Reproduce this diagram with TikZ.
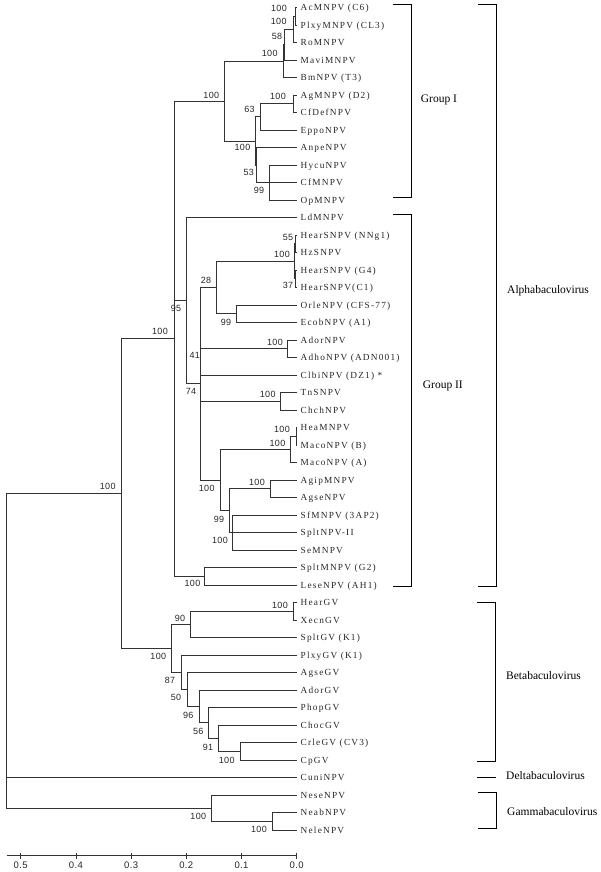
\documentclass[tikz,border=0pt]{standalone}
\usepackage{fontspec}
\setmainfont{Liberation Serif}
\newfontfamily\leaffont[LetterSpace=13]{Liberation Serif}
\newfontfamily\bsfont[LetterSpace=4]{Liberation Sans}
\tikzset{
  br/.style={line width=0.8pt, draw=black!80},
  leaf/.style={font=\leaffont\fontsize{9.3}{10}\selectfont, anchor=base west, inner sep=0pt, xshift=3.5pt, yshift=-3.2pt, text=black!85},
  bs/.style={font=\bsfont\fontsize{9}{10}\selectfont, inner sep=0pt, text=black!85},
  scl/.style={font=\bsfont\fontsize{9.5}{10}\selectfont, inner sep=0pt, text=black!85},
  grp/.style={font=\fontsize{11.5}{13}\selectfont, anchor=base west, inner sep=0pt, yshift=-3.8pt},
  bk/.style={line width=0.9pt, draw=black},
}
\begin{document}
\begin{tikzpicture}[x=1pt,y=-1pt]
\useasboundingbox (0,0) rectangle (600,872);
% ---- leaves
\foreach \i/\y in {1/7.5,2/25,3/42.5,4/60,5/77.5,6/95,7/112.5,8/130,9/147.5,10/165,11/182.5,12/200,13/217.5,14/235,15/252.5,16/270,17/287.5,18/305,19/322.5,20/340,21/357.5,22/375,23/392.5,24/410,25/427.5,26/445,27/462.5,28/480,29/497.5,30/515,31/532.5,32/550,33/567.5,34/585,35/602.5,36/620,37/637.5,38/655,39/672.5,40/690,41/707.5,42/725,43/742.5,44/760,45/777.5,46/795,47/812.5,48/830}
  {\coordinate (t\i) at (297,\y);}
\node[leaf] (l1) at (t1) {AcMNPV (C6)};
\node[leaf] (l2) at (t2) {PlxyMNPV (CL3)};
\node[leaf] (l3) at (t3) {RoMNPV};
\node[leaf] (l4) at (t4) {MaviMNPV};
\node[leaf] (l5) at (t5) {BmNPV (T3)};
\node[leaf] (l6) at (t6) {AgMNPV (D2)};
\node[leaf] (l7) at (t7) {CfDefNPV};
\node[leaf] (l8) at (t8) {EppoNPV};
\node[leaf] (l9) at (t9) {AnpeNPV};
\node[leaf] (l10) at (t10) {HycuNPV};
\node[leaf] (l11) at (t11) {CfMNPV};
\node[leaf] (l12) at (t12) {OpMNPV};
\node[leaf] (l13) at (t13) {LdMNPV};
\node[leaf] (l14) at (t14) {HearSNPV (NNg1)};
\node[leaf] (l15) at (t15) {HzSNPV};
\node[leaf] (l16) at (t16) {HearSNPV (G4)};
\node[leaf] (l17) at (t17) {HearSNPV(C1)};
\node[leaf] (l18) at (t18) {OrleNPV (CFS-77)};
\node[leaf] (l19) at (t19) {EcobNPV (A1)};
\node[leaf] (l20) at (t20) {AdorNPV};
\node[leaf] (l21) at (t21) {AdhoNPV (ADN001)};
\node[leaf] (l22) at (t22) {ClbiNPV (DZ1) *};
\node[leaf] (l23) at (t23) {TnSNPV};
\node[leaf] (l24) at (t24) {ChchNPV};
\node[leaf] (l25) at (t25) {HeaMNPV};
\node[leaf] (l26) at (t26) {MacoNPV (B)};
\node[leaf] (l27) at (t27) {MacoNPV (A)};
\node[leaf] (l28) at (t28) {AgipMNPV};
\node[leaf] (l29) at (t29) {AgseNPV};
\node[leaf] (l30) at (t30) {SfMNPV (3AP2)};
\node[leaf] (l31) at (t31) {SpltNPV-II};
\node[leaf] (l32) at (t32) {SeMNPV};
\node[leaf] (l33) at (t33) {SpltMNPV (G2)};
\node[leaf] (l34) at (t34) {LeseNPV (AH1)};
\node[leaf] (l35) at (t35) {HearGV};
\node[leaf] (l36) at (t36) {XecnGV};
\node[leaf] (l37) at (t37) {SpltGV (K1)};
\node[leaf] (l38) at (t38) {PlxyGV (K1)};
\node[leaf] (l39) at (t39) {AgseGV};
\node[leaf] (l40) at (t40) {AdorGV};
\node[leaf] (l41) at (t41) {PhopGV};
\node[leaf] (l42) at (t42) {ChocGV};
\node[leaf] (l43) at (t43) {CrleGV (CV3)};
\node[leaf] (l44) at (t44) {CpGV};
\node[leaf] (l45) at (t45) {CuniNPV};
\node[leaf] (l46) at (t46) {NeseNPV};
\node[leaf] (l47) at (t47) {NeabNPV};
\node[leaf] (l48) at (t48) {NeleNPV};
% ---- internal nodes
\coordinate (a1) at (295.5,16.25);
\coordinate (a2) at (293.3,29.375);
\coordinate (a3) at (284,44.69);
\coordinate (a4) at (283.5,61.09);
\coordinate (a5) at (293.3,103.75);
\coordinate (a6) at (260,116.875);
\coordinate (a7) at (269,182.5);
\coordinate (a8) at (256.4,165);
\coordinate (a9) at (255.8,140.94);
\coordinate (a10) at (224.3,101.02);
\coordinate (b1) at (295.8,243.75);
\coordinate (b2) at (295.8,278.75);
\coordinate (b3) at (294,261.25);
\coordinate (b4) at (236.7,313.75);
\coordinate (b5) at (216.7,287.5);
\coordinate (b6) at (287.3,348.75);
\coordinate (b14) at (200.7,361.875);
\coordinate (b7) at (280,401.25);
\coordinate (b8) at (296,436.25);
\coordinate (b9) at (290.7,449.375);
\coordinate (b10) at (270,488.75);
\coordinate (b11) at (232.7,532.5);
\coordinate (b12) at (229.3,510.625);
\coordinate (b13) at (220,480);
\coordinate (b15) at (200.7,383.75);
\coordinate (b16) at (186.7,300.625);
\coordinate (b17) at (204.3,576.25);
\coordinate (A) at (174,338.64);
\coordinate (c1) at (293.3,611.25);
\coordinate (c2) at (190.5,624.375);
\coordinate (c3) at (240,751.25);
\coordinate (c4) at (218.3,738.125);
\coordinate (c5) at (208.3,722.81);
\coordinate (c6) at (199.3,706.41);
\coordinate (c7) at (187.3,689.45);
\coordinate (c8) at (181.7,672.23);
\coordinate (B) at (171.7,648.3);
\coordinate (AB) at (121,493.47);
\coordinate (g1) at (272.3,821.25);
\coordinate (g2) at (211.7,808.125);
\coordinate (R) at (6.7,650.8);
% ---- branches
\foreach \p/\c in {a1/t1,a1/t2,a2/a1,a2/t3,a3/a2,a3/t4,a4/a3,a4/t5,
  a5/t6,a5/t7,a6/a5,a6/t8,a7/t10,a7/t11,a7/t12,a8/t9,a8/a7,a9/a6,a9/a8,a10/a4,a10/a9,
  b1/t14,b1/t15,b2/t16,b2/t17,b3/b1,b3/b2,b4/t18,b4/t19,b5/b3,b5/b4,
  b6/t20,b6/t21,b14/b6,b14/t22,b7/t23,b7/t24,b8/t25,b8/t26,b9/b8,b9/t27,
  b10/t28,b10/t29,b11/t30,b11/t31,b11/t32,b12/b10,b12/b11,b13/b9,b13/b12,
  b15/b5,b15/b14,b15/b7,b15/b13,b16/t13,b16/b15,b17/t33,b17/t34,
  A/a10,A/b16,A/b17,
  c1/t35,c1/t36,c2/c1,c2/t37,c3/t43,c3/t44,c4/t42,c4/c3,c5/t41,c5/c4,
  c6/t40,c6/c5,c7/t39,c7/c6,c8/t38,c8/c7,B/c2,B/c8,AB/A,AB/B,
  g1/t47,g1/t48,g2/t46,g2/g1,R/AB,R/t45,R/g2}
  {\draw[br] (\p) |- (\c);}
% ---- bootstrap values
\node[bs] (s-a1) at (279,8.5) {100};
\node[bs] (s-a2) at (278.7,21.7) {100};
\node[bs] (s-a3) at (277,36.7) {58};
\node[bs] (s-a4) at (269.7,53.3) {100};
\node[bs] (s-a5) at (278,96.3) {100};
\node[bs] (s-a6) at (249.5,109.3) {63};
\node[bs] (s-a9) at (242.5,147.3) {100};
\node[bs] (s-a8) at (248.7,172.7) {53};
\node[bs] (s-a7) at (259,190) {99};
\node[bs] (s-a10) at (211.3,95.5) {100};
\node[bs] (s-b1) at (288,237) {55};
\node[bs] (s-b3) at (282,254.5) {100};
\node[bs] (s-b2) at (288,285.5) {37};
\node[bs] (s-b5) at (206,280.5) {28};
\node[bs] (s-b4) at (226,322.3) {99};
\node[bs] (s-b16) at (176,308) {95};
\node[bs] (s-A) at (160,331) {100};
\node[bs] (s-b6) at (275,342) {100};
\node[bs] (s-b14) at (194.7,355) {41};
\node[bs] (s-b15) at (191,391.2) {74};
\node[bs] (s-b7) at (267.7,394.5) {100};
\node[bs] (s-b8) at (282,429.7) {100};
\node[bs] (s-b9) at (277.5,443.7) {100};
\node[bs] (s-b10) at (257,482) {100};
\node[bs] (s-b13) at (206.7,488.7) {100};
\node[bs] (s-b12) at (219,519) {99};
\node[bs] (s-b11) at (220,540.3) {100};
\node[bs] (s-b17) at (192.5,583.7) {100};
\node[bs] (s-AB) at (107.7,486.7) {100};
\node[bs] (s-c1) at (280,605.3) {100};
\node[bs] (s-c2) at (180,618) {90};
\node[bs] (s-B) at (158.3,656.7) {100};
\node[bs] (s-c8) at (170,680.5) {87};
\node[bs] (s-c7) at (176,697.8) {50};
\node[bs] (s-c6) at (188.3,715.3) {96};
\node[bs] (s-c5) at (198.3,731.3) {56};
\node[bs] (s-c4) at (208,747) {91};
\node[bs] (s-c3) at (226.7,760.3) {100};
\node[bs] (s-g2) at (198.3,816.7) {100};
\node[bs] (s-g1) at (259,829.3) {100};
% ---- scale bar
\coordinate (ax0) at (6.7,855.7);
\coordinate (ax1) at (296.7,855.7);
\draw[br] (ax0) -- (ax1);
\foreach \k/\lab in {0/0.0,1/0.1,2/0.2,3/0.3,4/0.4,5/0.5}{
  \draw[br] (296.7-55.2*\k,852.7) -- (296.7-55.2*\k,859);
  \node[scl] (sc\k) at (296.7-55.2*\k,864.8) {\lab};
}
% ---- brackets
\draw[bk] (393.3,4.5) -- (411.7,4.5) -- (411.7,197.3) -- (393.3,197.3);
\draw[bk] (393.3,214) -- (411.7,214) -- (411.7,586) -- (393.3,586);
\draw[bk] (478.3,4.5) -- (496.7,4.5) -- (496.7,586) -- (478.3,586);
\draw[bk] (477.3,602.7) -- (495.7,602.7) -- (495.7,761) -- (477.3,761);
\draw[bk] (477.3,777.7) -- (496,777.7);
\draw[bk] (478,792.3) -- (496.7,792.3) -- (496.7,828.3) -- (478,828.3);
\node[grp] (gI) at (420.7,99) {Group I};
\node[grp] (gII) at (422.7,385) {Group II};
\node[grp] (alpha) at (507,289.3) {Alphabaculovirus};
\node[grp] (beta) at (506,676) {Betabaculovirus};
\node[grp] (delta) at (506,775.7) {Deltabaculovirus};
\node[grp] (gamma) at (507,811.7) {Gammabaculovirus};
\end{tikzpicture}
\end{document}
